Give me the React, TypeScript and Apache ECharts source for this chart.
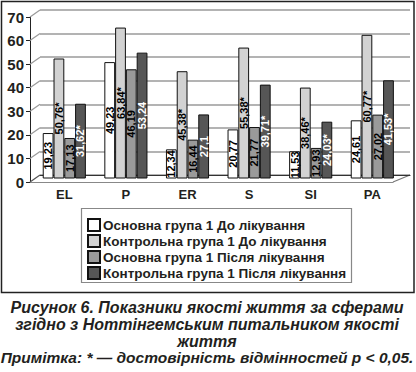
import React, { useEffect, useRef } from "react";
import * as echarts from "echarts";

const categories = ["EL", "P", "ER", "S", "SI", "PA"];
const seriesNames = [
  "Основна група 1 До лікування",
  "Контрольна група 1 До лікування",
  "Основна група 1 Після лікування",
  "Контрольна група 1 Після лікування",
];
const mainBefore = [19.23, 49.23, 12.34, 20.77, 11.53, 24.61];
const controlBefore = [50.76, 63.84, 45.38, 55.38, 38.46, 60.77];
const mainAfter = [17.13, 46.19, 16.44, 21.77, 12.93, 27.02];
const controlAfter = [31.62, 53.24, 27.1, 39.71, 24.03, 41.53];
const mainBeforeSig = [false, false, false, false, false, false];
const controlBeforeSig = [true, true, true, true, true, true];
const mainAfterSig = [false, false, false, false, false, false];
const controlAfterSig = [true, false, false, true, true, true];
const yTickValues = [0, 10, 20, 30, 40, 50, 60, 70];
const captionLines = [
  "Рисунок 6. Показники якості життя за сферами",
  "згідно з Ноттінгемським питальником якості",
  "життя",
  "Примітка: * — достовірність відмінностей p < 0,05.",
];

const FONT = "'Liberation Sans', Arial, sans-serif";
const TEXT = "#231f20";
const barColors = ["#ffffff", "#d2d2d2", "#9a9a9a", "#565656"];
const labelColors = ["#000", "#000", "#000", "#fff"];

export default function App() {
  const ref = useRef<HTMLDivElement>(null);
  useEffect(() => {
    document.body.style.margin = "0";
    if (!ref.current) return;
    const chart = echarts.init(ref.current, undefined, { renderer: "svg" });
    const values = [mainBefore, controlBefore, mainAfter, controlAfter];
    const sigs = [mainBeforeSig, controlBeforeSig, mainAfterSig, controlAfterSig];
    const fmt = (v: number) => String(v).replace(".", ",");

    chart.setOption({
      animation: false,
      backgroundColor: "#fff",
      grid: [
        { left: 33.5, right: 12.9, top: 13, bottom: 193.5 },
        { left: 40, right: 6, top: 10, bottom: 197 },
        { left: 30, right: 23, top: 17, bottom: 190 },
      ],
      xAxis: [
        {
          type: "category",
          gridIndex: 0,
          data: categories,
          axisLine: { show: false },
          axisTick: { show: false },
          axisLabel: {
            margin: 9,
            fontSize: 13,
            fontWeight: "bold",
            fontFamily: FONT,
            color: TEXT,
          },
        },
        {
          type: "category",
          gridIndex: 1,
          data: categories,
          axisLine: { show: true, lineStyle: { color: "#333", width: 1 } },
          axisTick: { show: false },
          axisLabel: { show: false },
        },
        {
          type: "category",
          gridIndex: 2,
          data: categories,
          axisLine: { show: true, lineStyle: { color: "#888", width: 1.2 } },
          axisTick: { show: false },
          axisLabel: { show: false },
        },
      ],
      yAxis: [
        {
          type: "value",
          gridIndex: 0,
          min: 0,
          max: 70,
          interval: 10,
          show: false,
        },
        {
          type: "value",
          gridIndex: 1,
          min: 0,
          max: 70,
          interval: 10,
          axisLine: { show: false },
          axisTick: { show: false },
          axisLabel: { show: false },
          splitLine: { show: true, lineStyle: { color: "#9a9a9a", width: 1.5 } },
        },
        {
          type: "value",
          gridIndex: 2,
          min: 0,
          max: 70,
          interval: 10,
          axisLine: { show: true, lineStyle: { color: "#222", width: 1 } },
          axisTick: { show: true, inside: false, length: 4, lineStyle: { color: "#222" } },
          splitLine: { show: false },
          axisLabel: {
            margin: 6,
            fontSize: 15,
            fontWeight: "bold",
            fontFamily: FONT,
            color: TEXT,
          },
        },
      ],
      legend: {
        orient: "vertical",
        left: 87,
        top: 218,
        icon: "rect",
        itemWidth: 12,
        itemHeight: 12,
        itemGap: 2,
        padding: 0,
        data: seriesNames,
        textStyle: {
          fontSize: 13.5,
          fontWeight: "bold",
          fontFamily: FONT,
          color: TEXT,
          lineHeight: 13,
          padding: [0, 0, 0, -2],
        },
      },
      series: values.map((vals, si) => ({
        type: "bar",
        name: seriesNames[si],
        xAxisIndex: 0,
        yAxisIndex: 0,
        data: vals,
        barGap: "0%",
        barCategoryGap: "30%",
        itemStyle: { color: barColors[si], borderColor: "#111", borderWidth: 1 },
        label: {
          show: true,
          position: ["50%", "50%"],
          rotate: 90,
          align: "center",
          verticalAlign: "middle",
          fontSize: 11,
          fontWeight: "bold",
          fontFamily: FONT,
          color: labelColors[si],
          formatter: (p: any) => fmt(p.value) + (sigs[si][p.dataIndex] ? "*" : ""),
        },
        z: 3,
      })),
    });

    // 3D-style connectors between front axis and back wall, computed via the axes' scales
    const diagonals: any[] = yTickValues.map((v) => {
      const fy = chart.convertToPixel({ yAxisIndex: 2 }, v) as number;
      const by = chart.convertToPixel({ yAxisIndex: 1 }, v) as number;
      return { fy, by };
    });
    const frontLeft = 30;
    const backLeft = 40;
    const frontRight = 393;
    const backRight = 410;
    const floorFront = chart.convertToPixel({ yAxisIndex: 2 }, 0) as number;
    const floorBack = chart.convertToPixel({ yAxisIndex: 1 }, 0) as number;

    const captionSizes = [16, 16, 16, 15.5];
    const captionY = [307.5, 324.5, 341, 357.5];
    const graphics: any[] = [
      {
        type: "rect",
        shape: { x: 1.5, y: 1.5, width: 412.5, height: 291 },
        style: { fill: "none", stroke: "#222", lineWidth: 1.5 },
        silent: true,
      },
      {
        type: "rect",
        shape: { x: 81.5, y: 208.5, width: 270, height: 74 },
        style: { fill: "none", stroke: "#888", lineWidth: 1.2 },
        silent: true,
      },
      ...diagonals.map((d, i) => ({
        type: "line",
        shape: { x1: frontLeft, y1: d.fy, x2: backLeft, y2: d.by },
        style: { stroke: i === 0 ? "#555" : "#9a9a9a", lineWidth: 1.2 },
        silent: true,
        z: 1,
      })),
      {
        type: "line",
        shape: { x1: frontRight, y1: floorFront, x2: backRight, y2: floorBack },
        style: { stroke: "#777", lineWidth: 1.2 },
        silent: true,
      },
      ...captionLines.map((t, i) => ({
        type: "text",
        x: 207,
        y: captionY[i],
        style: {
          text: t,
          fill: TEXT,
          font: `italic bold ${captionSizes[i]}px ${FONT}`,
          lineHeight: 15.5,
          textAlign: "center",
          textVerticalAlign: "middle",
        },
        silent: true,
      })),
    ];
    chart.setOption({ graphic: graphics });

    return () => chart.dispose();
  }, []);
  return <div ref={ref} style={{ width: 416, height: 372 }} />;
}
